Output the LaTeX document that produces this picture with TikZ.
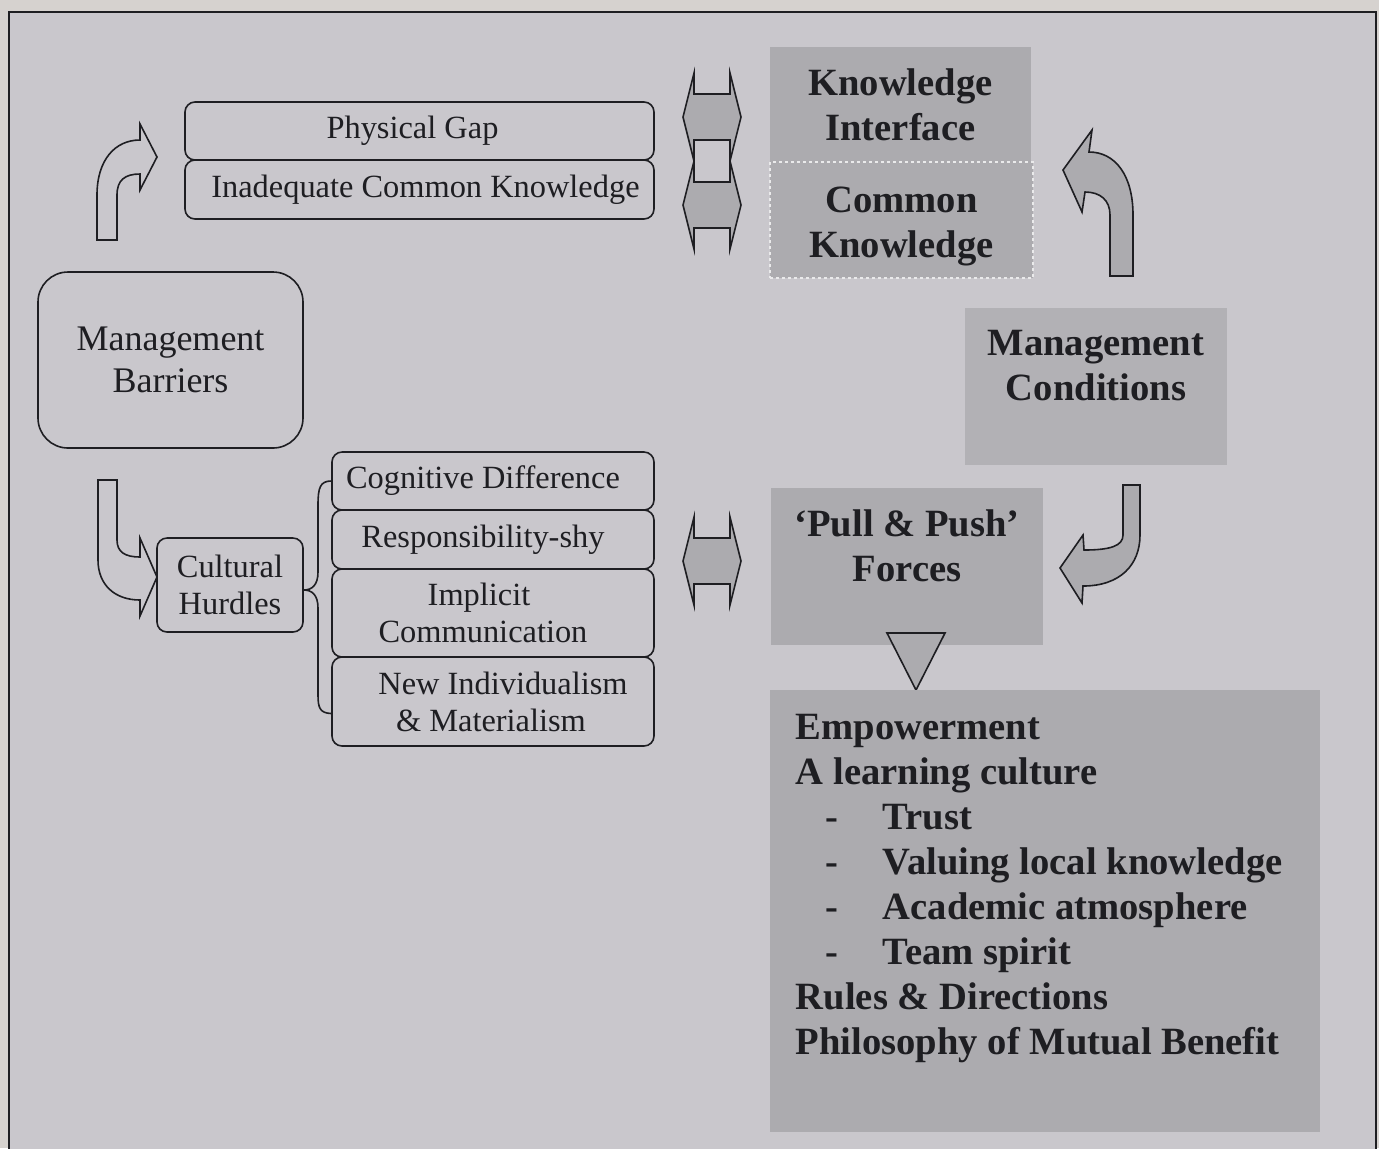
\documentclass[tikz,border=0pt]{standalone}
\usepackage{fontspec}
\setmainfont{Liberation Serif}
\usepackage{tikz}
\usetikzlibrary{positioning}
\definecolor{outerbg}{RGB}{214,210,207}
\definecolor{innerbg}{RGB}{201,199,204}
\definecolor{boxgray}{RGB}{172,171,175}
\definecolor{condgray}{RGB}{178,177,181}
\definecolor{txt}{RGB}{30,30,34}

\begin{document}
\begin{tikzpicture}[x=0.5pt,y=-0.5pt,
    line width=0.8pt,
    plainbox/.style={draw=txt, rounded corners=5pt, inner sep=0pt, align=center,
      text=txt, font=\fontsize{16.2}{18.5}\selectfont},
    greybox/.style={fill=boxgray, inner sep=0pt, align=center, text=txt,
      font=\fontsize{19.3}{22.5}\selectfont\bfseries},
    blockarrow/.style={draw=txt, line join=miter}]
		\useasboundingbox (0,0) rectangle (1379,1148);
		\fill[outerbg] (0,0) rectangle (1379,1148);
		\fill[innerbg] (9,12) rectangle (1376,1160);
		\draw[txt] (9,1160) -- (9,12) -- (1376,12) -- (1376,1160); % frame

		% barriers side
		\node[plainbox, rounded corners=15pt, minimum width=132.5pt, minimum height=88pt,
		  font=\fontsize{18}{21}\selectfont] (barriers) at (170.5,360) {Management\\Barriers};
		\node[plainbox, minimum width=234.5pt, minimum height=29pt] (gap) at (419.5,131) {\hspace*{-7pt}Physical Gap};
		\node[plainbox, minimum width=234.5pt, minimum height=29.5pt] (inadequate) at (419.5,189.5) {\hspace*{6pt}Inadequate Common Knowledge};
		\node[plainbox, minimum width=73pt, minimum height=47pt] (hurdles) at (230,585) {Cultural\\Hurdles};
		\node[plainbox, minimum width=161pt, minimum height=29pt] (cognitive) at (493,481) {\hspace*{-10pt}Cognitive Difference};
		\node[plainbox, minimum width=161pt, minimum height=29.5pt] (shy) at (493,539.5) {\hspace*{-10pt}Responsibility-shy};
		\node[plainbox, minimum width=161pt, minimum height=44pt] (implicit) at (493,613) {\hspace*{-14pt}Implicit\\\hspace*{-10pt}Communication};
		\node[plainbox, minimum width=161pt, minimum height=44.5pt] (individual) at (493,701.5) {\hspace*{10pt}New Individualism\\\hspace*{-2pt}\& Materialism};

		% bent arrows
		\draw[blockarrow] (97,240) -- (97,195) .. controls (97,160) and (115,140) .. (140,140)
		  -- (140,124) -- (157,157) -- (140,190) -- (140,174)
		  .. controls (125,174) and (117,180) .. (117,195) -- (117,240) -- cycle;
		\draw[blockarrow] (98,480) -- (98,560) .. controls (98,585) and (115,600) .. (140,600)
		  -- (140,616) -- (157,577) -- (140,538) -- (140,557)
		  .. controls (125,557) and (117,552) .. (117,540) -- (117,480) -- cycle;
		\draw[blockarrow, fill=boxgray] (1133,276) -- (1133,215) .. controls (1133,175) and (1115,152) .. (1089,152)
		  -- (1092,130) -- (1063,170) -- (1082,212) -- (1085,192)
		  .. controls (1100,192) and (1110,200) .. (1110,215) -- (1110,276) -- cycle;
		\draw[blockarrow, fill=boxgray] (1123,485) -- (1123,535) .. controls (1123,546) and (1110,550) .. (1084,550)
		  -- (1083,535) -- (1060,568) -- (1082,603) -- (1083,586)
		  .. controls (1120,586) and (1140,565) .. (1140,535) -- (1140,485) -- cycle;

		% brace
		\draw[txt] (cognitive.west) .. controls (320,481) and (318,488) .. (318,505)
		  -- (318,572) .. controls (318,585) and (312,590) .. (hurdles.east |- 0,590)
		  .. controls (312,590) and (318,595) .. (318,608)
		  -- (318,695) .. controls (318,708) and (320,713) .. ([yshift=-6pt]individual.west);

		% double arrows
		\foreach \y in {117,205,561}
		\draw[blockarrow, fill=boxgray, shift={(712,\y)}] (-29,0) -- (-18,-44) -- (-18,-23) -- (18,-23)
		  -- (18,-44) -- (29,0) -- (18,44) -- (18,23) -- (-18,23) -- (-18,44) -- cycle;

		% conditions side
		\node[greybox, minimum width=130.5pt, minimum height=57.5pt] (interface) at (900.5,104.5) {Knowledge\\Interface};
		\node[greybox, draw=white!75!boxgray, dash pattern=on 1.5pt off 1.5pt, line width=0.6pt,
		  minimum width=131.5pt, minimum height=58pt] (common) at (901.5,220) {};
		\node[greybox, fill=none] (commontext) at (901.5,226) {Common\\Knowledge};
		\node[greybox, fill=condgray, minimum width=131pt, minimum height=78.5pt] (conditions) at (1096,386.5) {};
		\node[greybox, fill=none] (condtext) at (1096,366) {Management\\Conditions};
		\node[greybox, minimum width=136pt, minimum height=78.5pt] (forces) at (907,566.5) {};
		\node[greybox, fill=none] (forcetext) at (907,546) {‘Pull \& Push’\\Forces};
		\draw[blockarrow, fill=boxgray] (887,633) -- (945,633) -- (916,690) -- cycle;
		\node[greybox, minimum width=275pt, minimum height=221pt] (factors) at (1045,911) {};
		\node[greybox, fill=none, align=left, anchor=north west] (factortext) at (795,713)
		  {Empowerment\\
		   A learning culture\\
		   \hspace*{15pt}\makebox[28.5pt][l]{-}Trust\\
		   \hspace*{15pt}\makebox[28.5pt][l]{-}Valuing local knowledge\\
		   \hspace*{15pt}\makebox[28.5pt][l]{-}Academic atmosphere\\
		   \hspace*{15pt}\makebox[28.5pt][l]{-}Team spirit\\
		   Rules \& Directions\\
		   Philosophy of Mutual Benefit};
		\end{tikzpicture}
\end{document}
